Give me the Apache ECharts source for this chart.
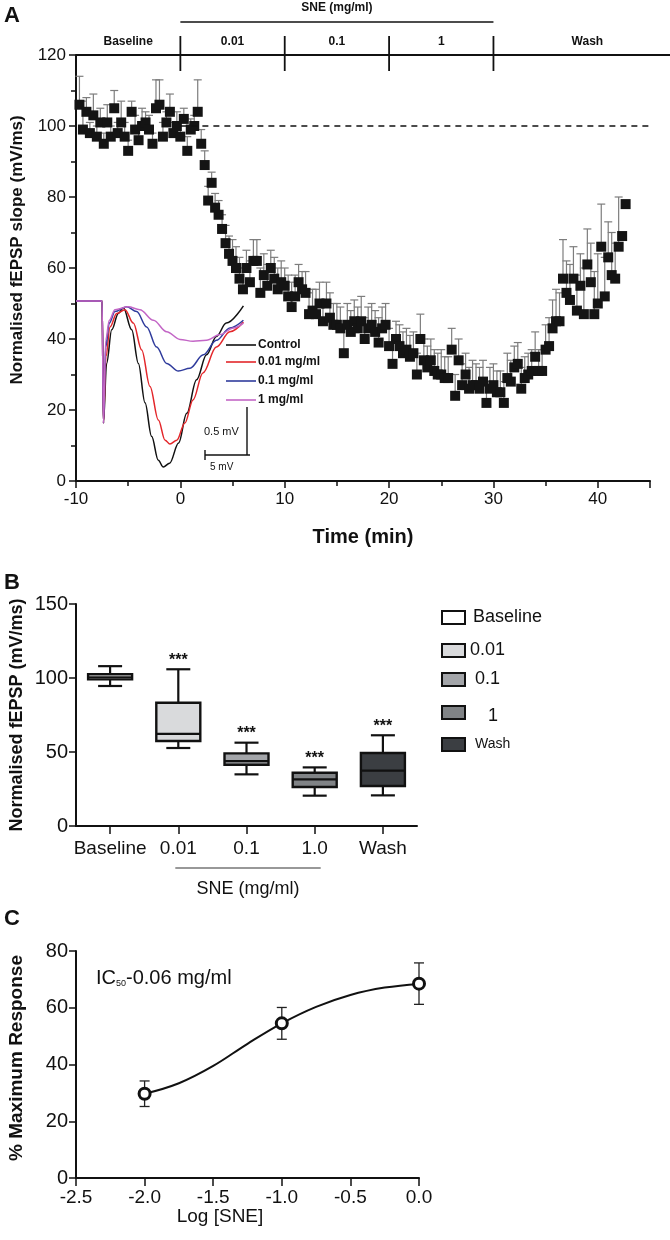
<!DOCTYPE html>
<html><head><meta charset="utf-8">
<script src="https://cdn.jsdelivr.net/npm/echarts/dist/echarts.min.js"></script>
<style>html,body{margin:0;padding:0;background:#fff}#c{width:670px;height:1240px}</style>
</head><body><div id="c"></div>
<script>
// ---------------- DATA ----------------
// Panel A: normalised fEPSP slope, sampled every 20 s
const timeStart = -9.67;
const sampleStepMin = 1 / 3;
const slopeValues = [
  106,99,104,98,103,97,101,95,101,97,105,98,101,97,93,104,99,96,100,101,99,95,105,106,97,101,104,98,100,97,
  102,93,99,100,104,95,89,79,84,77,75,71,67,64,62,60,57,54,60,56,62,62,53,58,55,60,57,54,56,55,
  52,49,52,56,54,53,47,48,47,50,45,50,46,44,44,43,36,44,42,45,43,45,40,43,44,42,39,43,44,38,
  33,40,38,36,37,35,36,30,40,34,32,34,31,30,30,29,29,37,24,34,27,30,26,27,27,26,28,22,26,27,
  25,25,22,29,28,32,33,26,29,30,31,35,31,31,37,38,43,45,45,57,53,51,57,48,55,47,61,56,47,50,
  66,52,63,58,57,66,69,78
];
const slopeErrors = [
  8,8,4,3,6,3,4,3,5,3,5,3,6,4,3,3,4,3,5,3,4,3,8,7,4,3,5,3,4,4,
  3,4,3,3,9,4,4,4,3,4,4,4,5,5,6,6,6,6,5,6,6,6,7,6,6,5,6,6,6,5,
  6,7,6,5,5,6,6,6,7,6,6,6,7,6,6,6,7,6,6,6,6,7,6,6,6,6,7,6,6,5,
  6,5,6,6,6,6,6,6,7,6,6,6,6,6,7,6,6,6,6,6,6,6,6,7,6,6,6,6,6,6,
  6,6,6,7,6,6,6,6,6,6,6,7,6,6,7,8,8,9,8,11,9,10,9,10,9,13,10,11,12,
  14,12,11,10,12,10,14
];
const timeTicks = [-10, 0, 10, 20, 30, 40];
const phaseLabels = ['Baseline', '0.01', '0.1', '1', 'Wash'];
const phaseStarts = [-10, 0, 10, 20, 30];
const baselineLevel = 100;

// Inset traces: [ms, mV]
const traceControl = [[0,0],[2.9,0],[3.05,-1.27],[3.4,-0.65],[3.97,-0.3],[4.7,-0.13],[5.26,-0.07],[6.19,-0.3],[6.93,-0.65],[7.67,-1.06],[8.4,-1.41],[9.15,-1.66],[9.7,-1.73],[10.4,-1.69],[11.4,-1.48],[12.3,-1.17],[13.4,-0.82],[14.5,-0.56],[15.6,-0.37],[16.7,-0.23],[18.6,-0.05]];
const trace001 = [[0,0],[2.9,0],[3.05,-1.27],[3.33,-0.58],[3.78,-0.27],[4.52,-0.13],[5.44,-0.09],[6.37,-0.23],[7.3,-0.51],[8.22,-0.89],[9.15,-1.24],[9.9,-1.45],[10.44,-1.49],[11.2,-1.45],[12.1,-1.27],[13.0,-1.03],[14.1,-0.75],[15.6,-0.48],[17.1,-0.32],[18.6,-0.22]];
const trace01 = [[0,0],[2.9,0],[3.05,-1.27],[3.3,-0.48],[3.7,-0.23],[4.33,-0.11],[5.63,-0.06],[6.74,-0.11],[7.85,-0.27],[8.96,-0.48],[10.07,-0.65],[11.37,-0.73],[12.67,-0.70],[14.15,-0.56],[15.6,-0.41],[17.1,-0.28],[18.6,-0.2]];
const trace1 = [[0,0],[2.9,0],[3.05,-1.27],[3.3,-0.41],[3.7,-0.2],[4.33,-0.09],[5.81,-0.06],[7.1,-0.09],[8.6,-0.2],[10.07,-0.32],[11.56,-0.4],[13.0,-0.42],[14.5,-0.41],[16,-0.35],[17.5,-0.28],[18.6,-0.23]];
const traceNames = ['Control', '0.01 mg/ml', '0.1 mg/ml', '1 mg/ml'];

// Panel B: box plot [min, Q1, median, Q3, max]
const boxCategories = ['Baseline', '0.01', '0.1', '1.0', 'Wash'];
const boxLegendLabels = ['Baseline', '0.01', ' 0.1', '1', 'Wash'];
const boxStats = [
  [94.6, 99.1, 100.5, 102.5, 108],
  [52.7, 57.4, 62.2, 83.3, 105.9],
  [34.9, 41.4, 43.9, 49.1, 56.3],
  [20.5, 26.4, 31.5, 36.0, 39.6],
  [20.7, 27.0, 37.4, 49.3, 61.3]
];
const boxSignif = ['', '***', '***', '***', '***'];

// Panel C: concentration response
const logConc = [-2, -1, 0];
const responseMean = [29.7, 54.5, 68.5];
const responseErr = [4.5, 5.6, 7.3];
const fitX = [-2, -1.75, -1.5, -1.25, -1, -0.75, -0.5, -0.25, 0];
const fitY = [29.7, 33.4, 39.5, 47.3, 54.5, 60.3, 64.5, 67.1, 68.4];

// ---------------- STYLE ----------------
const NARROW = "'Liberation Sans',Arial,sans-serif";
const SANS = "'Liberation Sans',Arial,sans-serif";
const INK = '#111';
const traceColors = ['#111111', '#e3262a', '#2f3b9c', '#c366c6'];
const boxFills = ['#ffffff', '#d9dadc', '#a3a5a9', '#808386', '#3b3e42'];

const chart = echarts.init(document.getElementById('c'), null, {renderer: 'canvas'});

const axisLine = {show: true, onZero: false, lineStyle: {color: INK, width: 2}};
const axisTick = {show: true, lineStyle: {color: INK, width: 1.5}, length: 7};

const slopeData = slopeValues.map((v, i) => [timeStart + i * sampleStepMin, v, slopeErrors[i] || 0]);

const option = {
  animation: false,
  backgroundColor: '#fff',
  grid: [
    {left: 76, top: 55, width: 574, height: 426},
    {left: 76, top: 291.4, width: 171, height: 182.4},
    {left: 76, top: 604, width: 341, height: 222},
    {left: 76, top: 951, width: 343, height: 227}
  ],
  xAxis: [
    {gridIndex: 0, type: 'value', min: -10, max: 45, interval: 10,
     axisLine, axisTick: {...axisTick},
     minorTick: {show: true, splitNumber: 2, length: 5, lineStyle: {color: INK, width: 1.5}},
     splitLine: {show: false},
     axisLabel: {color: INK, fontFamily: NARROW, fontSize: 17, margin: 10,
       formatter: v => (timeTicks.indexOf(v) >= 0 ? String(v) : '')}},
    {gridIndex: 1, type: 'value', min: 0, max: 19, show: false},
    {gridIndex: 2, type: 'category', data: boxCategories, boundaryGap: true,
     axisLine, axisTick: {...axisTick, alignWithLabel: true, length: 8},
     axisLabel: {color: INK, fontFamily: NARROW, fontSize: 19, margin: 13, interval: 0}},
    {gridIndex: 3, type: 'value', min: -2.5, max: 0, interval: 0.5,
     axisLine, axisTick: {...axisTick, length: 8}, splitLine: {show: false},
     axisLabel: {color: INK, fontFamily: NARROW, fontSize: 19, margin: 10, formatter: v => v.toFixed(1)}}
  ],
  yAxis: [
    {gridIndex: 0, type: 'value', min: 0, max: 120, interval: 20,
     axisLine, axisTick: {...axisTick},
     minorTick: {show: true, splitNumber: 2, length: 5, lineStyle: {color: INK, width: 1.5}},
     splitLine: {show: false},
     axisLabel: {color: INK, fontFamily: NARROW, fontSize: 17, margin: 10}},
    {gridIndex: 1, type: 'value', min: -1.8, max: 0.1, show: false},
    {gridIndex: 2, type: 'value', min: 0, max: 150, interval: 50,
     axisLine, axisTick: {...axisTick}, splitLine: {show: false},
     axisLabel: {color: INK, fontFamily: NARROW, fontSize: 20, margin: 8}},
    {gridIndex: 3, type: 'value', min: 0, max: 80, interval: 20,
     axisLine, axisTick: {...axisTick}, splitLine: {show: false},
     axisLabel: {color: INK, fontFamily: NARROW, fontSize: 20, margin: 8}}
  ],
  series: [
    // A error bars
    {type: 'custom', xAxisIndex: 0, yAxisIndex: 0, z: 2, data: slopeData,
     renderItem: (params, api) => {
       const t = api.value(0), v = api.value(1), e = api.value(2);
       const p0 = api.coord([t, v]), p1 = api.coord([t, v + e]);
       const st = {stroke: '#7d7d7d', lineWidth: 1.2};
       return {type: 'group', children: [
         {type: 'line', shape: {x1: p0[0], y1: p0[1], x2: p1[0], y2: p1[1]}, style: st},
         {type: 'line', shape: {x1: p1[0] - 4, y1: p1[1], x2: p1[0] + 4, y2: p1[1]}, style: st}
       ]};
     }},
    // A squares
    {type: 'scatter', xAxisIndex: 0, yAxisIndex: 0, z: 3, symbol: 'rect', symbolSize: 10,
     itemStyle: {color: '#141414', opacity: 1}, data: slopeData.map(d => [d[0], d[1]]),
     markLine: {silent: true, symbol: 'none', label: {show: false},
       lineStyle: {color: INK, type: [6, 5], width: 1.5},
       data: [[{coord: [0, baselineLevel]}, {coord: [45, baselineLevel]}]]}},
    // Inset traces
    ...[traceControl, trace001, trace01, trace1].map((tr, k) => ({
      type: 'line', name: traceNames[k], xAxisIndex: 1, yAxisIndex: 1, z: 4 + k,
      data: tr, showSymbol: false, smooth: 0.35, smoothMonotone: 'x',
      lineStyle: {color: traceColors[k], width: 1.5}
    })),
    // B boxes
    {type: 'custom', xAxisIndex: 2, yAxisIndex: 2, z: 3,
     data: boxStats.map((s, i) => [i, ...s]),
     renderItem: (params, api) => {
       const i = api.value(0);
       const mn = api.coord([i, api.value(1)]), q1 = api.coord([i, api.value(2)]),
             md = api.coord([i, api.value(3)]), q3 = api.coord([i, api.value(4)]),
             mx = api.coord([i, api.value(5)]);
       const x = mn[0], hb = 22, hc = 12;
       const st = {stroke: INK, lineWidth: 2.2};
       return {type: 'group', children: [
         {type: 'line', shape: {x1: x, y1: mx[1], x2: x, y2: q3[1]}, style: st},
         {type: 'line', shape: {x1: x, y1: q1[1], x2: x, y2: mn[1]}, style: st},
         {type: 'line', shape: {x1: x - hc, y1: mx[1], x2: x + hc, y2: mx[1]}, style: st},
         {type: 'line', shape: {x1: x - hc, y1: mn[1], x2: x + hc, y2: mn[1]}, style: st},
         {type: 'rect', shape: {x: x - hb, y: q3[1], width: 2 * hb, height: q1[1] - q3[1]},
          style: {fill: boxFills[params.dataIndex], stroke: INK, lineWidth: 2.4}},
         {type: 'line', shape: {x1: x - hb, y1: md[1], x2: x + hb, y2: md[1]}, style: st}
       ]};
     }},
    // B significance stars
    {type: 'custom', xAxisIndex: 2, yAxisIndex: 2, z: 4,
     data: boxStats.map((s, i) => [i, s[4]]),
     renderItem: (params, api) => {
       const p = api.coord([api.value(0), api.value(1)]);
       return {type: 'text', style: {text: boxSignif[params.dataIndex], x: p[0], y: p[1] - 1,
         align: 'center', verticalAlign: 'bottom', fill: INK, font: "bold 16px " + SANS}};
     }},
    // C error bars
    {type: 'custom', xAxisIndex: 3, yAxisIndex: 3, z: 2,
     data: logConc.map((x, i) => [x, responseMean[i], responseErr[i]]),
     renderItem: (params, api) => {
       const x = api.value(0), m = api.value(1), e = api.value(2);
       const lo = api.coord([x, m - e]), hi = api.coord([x, m + e]);
       const st = {stroke: '#222', lineWidth: 1.3};
       return {type: 'group', children: [
         {type: 'line', shape: {x1: lo[0], y1: lo[1], x2: hi[0], y2: hi[1]}, style: st},
         {type: 'line', shape: {x1: hi[0] - 5, y1: hi[1], x2: hi[0] + 5, y2: hi[1]}, style: st},
         {type: 'line', shape: {x1: lo[0] - 5, y1: lo[1], x2: lo[0] + 5, y2: lo[1]}, style: st}
       ]};
     }},
    // C fit curve
    {type: 'line', xAxisIndex: 3, yAxisIndex: 3, z: 3, showSymbol: false, smooth: 0.4,
     data: fitX.map((x, i) => [x, fitY[i]]), lineStyle: {color: INK, width: 2}},
    // C points
    {type: 'scatter', xAxisIndex: 3, yAxisIndex: 3, z: 5, symbol: 'circle', symbolSize: 11,
     itemStyle: {color: '#fff', borderColor: INK, borderWidth: 3, opacity: 1},
     data: logConc.map((x, i) => [x, responseMean[i]])}
  ]
};
chart.setOption(option);

// ---------------- annotations (positioned through the axes) ----------------
const pA = (t, v) => chart.convertToPixel({xAxisIndex: 0, yAxisIndex: 0}, [t, v]);
const pB = (c, v) => chart.convertToPixel({xAxisIndex: 2, yAxisIndex: 2}, [c, v]);
const g = [];
const txt = (x, y, text, font, align, vAlign, extra) => g.push(Object.assign({type: 'text', x, y,
  style: {text, font, fill: INK, align: align || 'left', verticalAlign: vAlign || 'middle'}}, extra || {}));
const line = (x1, y1, x2, y2, w, color) => g.push({type: 'line', shape: {x1, y1, x2, y2},
  style: {stroke: color || INK, lineWidth: w || 1.5}});

// panel letters
txt(4, 16, 'A', 'bold 22px ' + SANS);
txt(4, 583, 'B', 'bold 22px ' + SANS);
txt(4, 919, 'C', 'bold 22px ' + SANS);

// Panel A top bracket
const topY = pA(0, 120)[1];
const xEnd = 670;
line(pA(-10, 120)[0], topY, xEnd, topY, 1.8);
phaseStarts.slice(1).forEach(t => { const x = pA(t, 120)[0]; line(x, topY - 19, x, topY + 16, 1.8); });
line(pA(0, 0)[0], 22, pA(30, 0)[0], 22, 1.5);
txt((pA(0, 0)[0] + pA(30, 0)[0]) / 2, 8, 'SNE (mg/ml)', 'bold 12px ' + SANS, 'center');
phaseLabels.forEach((lab, k) => {
  const t0 = phaseStarts[k], t1 = k < phaseStarts.length - 1 ? phaseStarts[k + 1] : 48;
  txt((pA(t0, 0)[0] + pA(t1, 0)[0]) / 2, 42, lab, 'bold 12px ' + SANS, 'center');
});

// Axis titles
txt(17, 250, 'Normalised fEPSP slope (mV/ms)', 'bold 17px ' + SANS, 'center', 'middle', {rotation: Math.PI / 2});
txt(363, 537, 'Time (min)', 'bold 20px ' + SANS, 'center');
txt(17, 715, 'Normalised fEPSP (mV/ms)', 'bold 18px ' + SANS, 'center', 'middle', {rotation: Math.PI / 2});
txt(17, 1058, '% Maximum Response', 'bold 19px ' + SANS, 'center', 'middle', {rotation: Math.PI / 2});
txt(220, 1217, 'Log [SNE]', '19px ' + NARROW, 'center');

// inset legend
[345, 362, 381, 400].forEach((y, k) => {
  line(226, y, 256, y, 1.6, traceColors[k]);
  txt(258, y, traceNames[k], 'bold 12px ' + SANS);
});
// inset scale bars
line(247, 407, 247, 455, 1.4);
line(205, 455, 250, 455, 1.4);
line(205, 450, 205, 460, 1.4);
txt(204, 432, '0.5 mV', '11px ' + SANS);
txt(210, 467, '5 mV', '10px ' + SANS);

// Panel B SNE bracket
const bx1 = pB(1, 0)[0] - 3, bx2 = pB(3, 0)[0] + 6;
line(bx1, 868, bx2, 868, 1.2, '#333');
txt((bx1 + bx2) / 2, 889, 'SNE (mg/ml)', '18px ' + NARROW, 'center');

// Panel B legend
const legY = [617, 650, 679, 712, 744];
const legTextX = [473, 470, 470, 488, 475];
const legFonts = ['18px ', '18px ', '18px ', '18px ', '14px '];
legY.forEach((y, k) => {
  g.push({type: 'rect', shape: {x: 442, y: y - 6, width: 23, height: 13},
    style: {fill: boxFills[k], stroke: INK, lineWidth: 2}});
  txt(legTextX[k], y + (k === 3 ? 4 : 0), boxLegendLabels[k], legFonts[k] + NARROW);
});

// Panel C IC50 annotation
g.push({type: 'text', x: 96, y: 978, style: {
  text: 'IC{s|50}-0.06 mg/ml', font: '20px ' + NARROW, fill: INK, verticalAlign: 'middle',
  rich: {s: {fontSize: 9, fontFamily: NARROW, fill: INK, verticalAlign: 'bottom', padding: [10, 0, 0, 0]}}}});

chart.setOption({graphic: g});
</script>
</body></html>
